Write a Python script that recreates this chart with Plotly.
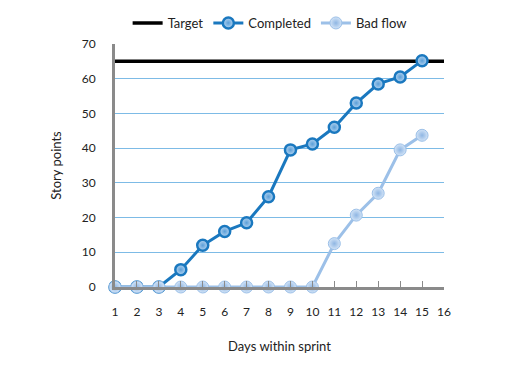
import plotly.graph_objects as go

days = list(range(1, 16))
completed = [0, 0, 0, 5, 12, 16, 18.5, 26, 39.5, 41.2, 46, 53, 58.5, 60.5, 65.2]
bad_flow = [0, 0, 0, 0, 0, 0, 0, 0, 0, 0, 12.5, 20.7, 27, 39.5, 43.7]
target = 65
target_days = [1, 16]
x_ticks = list(range(1, 17))
y_ticks = list(range(0, 71, 10))

FONT = "Lato"
fig = go.Figure()
fig.add_trace(go.Scatter(
    x=target_days, y=[target, target], mode="lines", name="Target",
    line=dict(color="black", width=3.5), cliponaxis=False))
fig.add_trace(go.Scatter(
    x=days, y=completed, mode="lines+markers", name="Completed",
    line=dict(color="#1a78bf", width=3),
    marker=dict(size=11, color="#b8d6f2", gradient=dict(type="radial", color="#5b9fd8"),
                line=dict(color="#1a78bf", width=2.5)),
    cliponaxis=False))
fig.add_trace(go.Scatter(
    x=days, y=bad_flow, mode="lines+markers", name="Bad flow",
    line=dict(color="#9cc0e8", width=3),
    marker=dict(size=12, color="#d3e4f7", gradient=dict(type="radial", color="#8fb6e3"),
                line=dict(color="#9cc0e8", width=1)),
    cliponaxis=False))

fig.update_layout(
    width=509, height=365,
    margin=dict(l=107, r=73, t=36, b=86, autoexpand=False),
    paper_bgcolor="white", plot_bgcolor="white",
    font=dict(family=FONT, size=12, color="#222"),
    showlegend=True,
    legend=dict(orientation="h", x=0.47, xanchor="center", y=1.0, yanchor="top",
                yref="container", font=dict(size=13), traceorder="normal",
                itemwidth=30, tracegroupgap=0),
    xaxis=dict(range=[1, 16], tickmode="array", tickvals=x_ticks,
               showgrid=False, zeroline=False, showline=True,
               linecolor="#8a8a8a", linewidth=3,
               ticks="inside", ticklen=6, tickcolor="#8a8a8a", tickwidth=1,
               ticklabelstandoff=12, automargin=False,
               title=dict(text="Days within sprint", font=dict(size=13), standoff=24)),
    yaxis=dict(range=[0, 70], tickmode="array", tickvals=y_ticks,
               showgrid=True, gridcolor="#7dbbe6", gridwidth=1,
               zeroline=False, showline=True, linecolor="#8a8a8a", linewidth=3,
               ticks="", ticklabelstandoff=14, automargin=False,
               title=dict(text="Story points", font=dict(size=13), standoff=18)),
)
fig.write_html("out.html")
